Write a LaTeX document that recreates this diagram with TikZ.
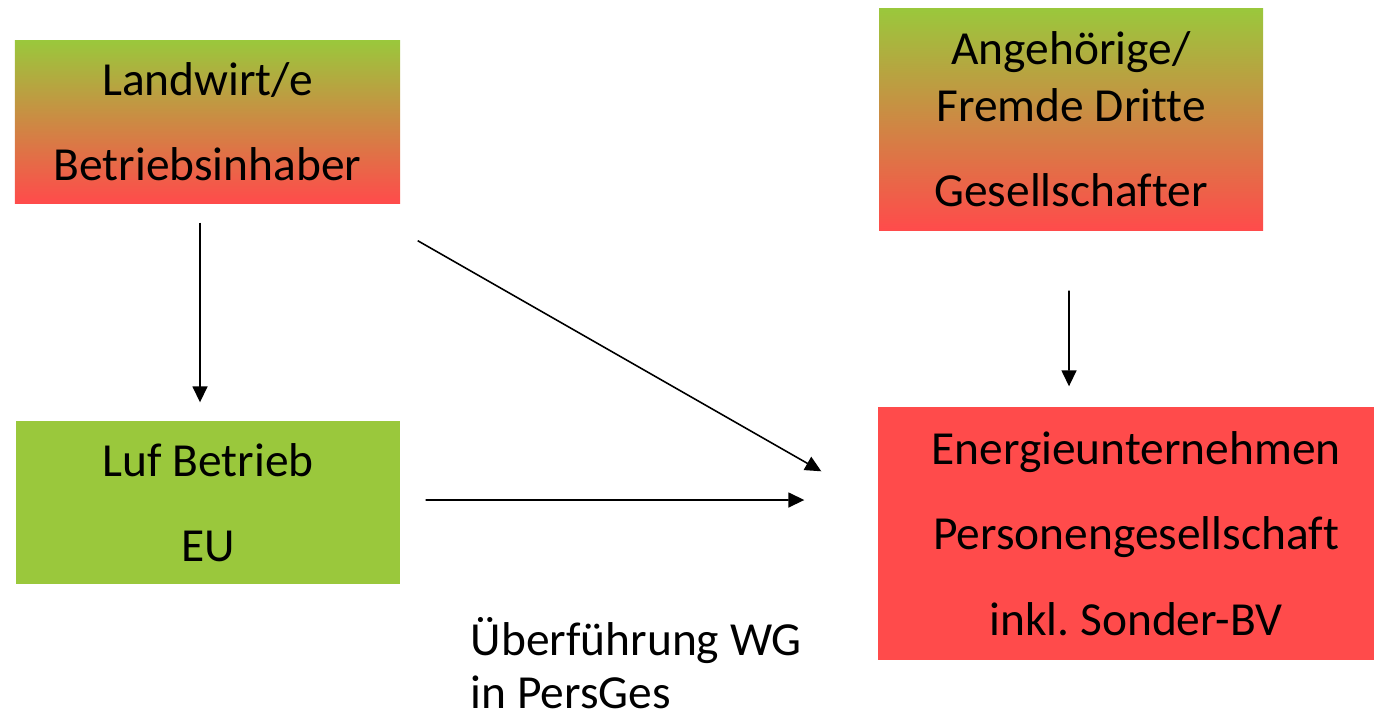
\documentclass[tikz,border=0pt]{standalone}
\usepackage{fontspec}
\setmainfont{Carlito}[Ligatures=NoCommon]
\usepackage{xcolor}
\definecolor{FarmGreen}{RGB}{154,200,60}
\definecolor{FirmRed}{RGB}{255,75,75}
\usetikzlibrary{arrows.meta}
\frenchspacing

\begin{document}
\begin{tikzpicture}[
    box/.style={rectangle, inner sep=0pt, align=center, font=\fontsize{13.5}{24.3}\selectfont},
    mixbox/.style={box, top color=FarmGreen, bottom color=FirmRed, shading angle=0},
    arrow/.style={-{Triangle[length=0.16cm, width=0.15cm]}, line width=0.45pt},
]
\useasboundingbox (0,0) rectangle (13.75,7.15);

% Upper boxes
\node[mixbox, minimum width=3.85cm, minimum height=1.63cm] (farmer) at (2.075,5.935) {Landwirt/e\\Betriebsinhaber};
\node[mixbox, minimum width=3.84cm, minimum height=2.22cm] (partners) at (10.71,5.96) {Angehörige/\\[-8.1pt]Fremde Dritte\\Gesellschafter};

% Lower boxes
\node[box, fill=FarmGreen, minimum width=3.84cm, minimum height=1.63cm] (farm) at (2.08,2.125) {Luf Betrieb\\EU};
\node[box, fill=FirmRed, minimum width=4.96cm, minimum height=2.53cm] (energy) at (11.26,1.815) {\hspace*{0.2cm}Energieunternehmen\\\hspace*{0.2cm}Personengesellschaft\\\hspace*{0.2cm}inkl. Sonder-BV};

% Arrows
\draw[arrow, shorten <=0.19cm, shorten >=0.18cm] ([xshift=-0.075cm]farmer.south) -- ([xshift=-0.08cm]farm.north);
\draw[arrow] ([shift={(0.17,-0.37)}]farmer.south east) -- ([shift={(-0.56,-0.65)}]energy.north west);
\draw[arrow] ([shift={(0.25,0.025)}]farm.east) -- ([shift={(-0.73,0.335)}]energy.west);
\draw[arrow, shorten <=0.6cm] ([xshift=-0.02cm]partners.south) -- ([shift={(-0.57,0.20)}]energy.north);

% Transfer label
\node[anchor=north west, inner sep=0pt, align=left, font=\fontsize{13.5}{15}\selectfont] (transfer) at (4.70,0.98) {Überführung WG\\in PersGes};

\end{tikzpicture}
\end{document}
